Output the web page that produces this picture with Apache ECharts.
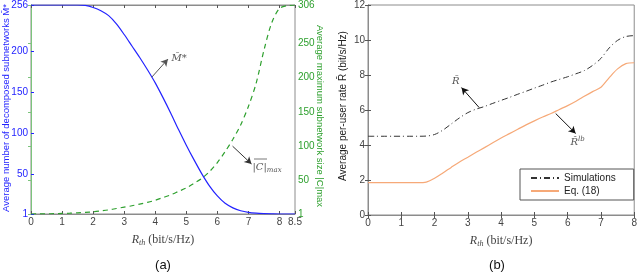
<!DOCTYPE html>
<html><head><meta charset="utf-8">
<script src="https://cdn.jsdelivr.net/npm/echarts@6/dist/echarts.min.js"></script>
<style>html,body{margin:0;padding:0;background:#fff}#c{width:640px;height:274px}</style>
</head><body><div id="c"></div>
<script>
// ---- data (a) ----
const rthA = [0,0.25,0.5,0.75,1,1.25,1.5,1.75,2,2.25,2.5,2.75,3,3.25,3.5,3.75,4,4.25,4.5,4.75,5,5.25,5.5,5.75,6,6.25,6.5,6.75,7,7.25,7.5,7.75,8,8.25,8.5];
const mStar = [256,256,256,256,256,256,256,255.5,253,249,243,233,220,206,192,177,161,143,124,104,85,67,50,35,23,14,8.5,5,3,2,1.5,1.2,1,1,1];
const cMax = [1,1.1,1.3,1.5,1.8,2.2,2.7,3.4,4.2,5.5,7,9,11,13,15.5,18,21,25,29,34,39,46,53,63,76,92,110,131,158,192,240,280,301,305,306];
const xTicksA = [0,1,2,3,4,5,6,7,8,8.5];
const leftTicksA = [1,50,100,150,200,250,256];
const rightTicksA = [1,50,100,150,200,250,300,306];
// ---- data (b) ----
const rthB = [0,0.25,0.5,0.75,1,1.25,1.5,1.75,2,2.25,2.5,2.75,3,3.25,3.5,3.75,4,4.25,4.5,4.75,5,5.25,5.5,5.75,6,6.25,6.5,6.75,7,7.25,7.5,7.75,8];
const rSim = [4.5,4.5,4.5,4.5,4.5,4.5,4.5,4.51,4.6,4.85,5.2,5.55,5.85,6.05,6.2,6.38,6.55,6.72,6.9,7.07,7.25,7.42,7.6,7.75,7.9,8.07,8.25,8.55,8.95,9.55,9.98,10.2,10.25];
const rEq = [1.85,1.85,1.85,1.85,1.85,1.85,1.85,1.88,2.1,2.4,2.72,3.03,3.3,3.58,3.85,4.13,4.4,4.65,4.9,5.15,5.38,5.6,5.8,6.03,6.25,6.5,6.78,7.05,7.3,7.85,8.35,8.65,8.7];
const legendNames = ['Simulations','Eq. (18)'];

const pair = (xs, ys) => xs.map((x,i)=>[x,ys[i]]);
const BLUE = '#2323ff', GREEN = '#2ea02e', GAX = '#7cc47c', ORANGE = '#f6a978', GRAY='#8c8c8c';
const lbl = (c)=>({color:c,fontSize:10,fontFamily:'Liberation Sans, Arial',margin:3,showMinLabel:true,showMaxLabel:true});
const serif = 'DejaVu Serif, Liberation Serif, serif';
const xName = {
  name:'{i|R}{s|th} (bit/s/Hz)', nameLocation:'middle', nameGap:18,
  nameTextStyle:{fontFamily:'Liberation Serif, serif',fontSize:12,color:'#444',
    rich:{i:{fontFamily:'Liberation Serif, serif',fontStyle:'italic',fontSize:12,color:'#444'},
          s:{fontFamily:'Liberation Serif, serif',fontStyle:'italic',fontSize:8,color:'#444',verticalAlign:'bottom',padding:[7,0,0,0]}}}
};
function arrow(from,to,color){
  return {silent:true,symbol:['none','arrow'],symbolSize:[6,7],animation:false,
    lineStyle:{color:color,width:1,type:'solid'},label:{show:false},
    data:[[{coord:from},{coord:to}]]};
}
function tag(coord, text, rich){
  return {silent:true,animation:false,data:[{coord:coord,symbol:'circle',symbolSize:2,itemStyle:{color:'rgba(0,0,0,0)'},
    label:{show:true,position:'inside',formatter:text,color:'#555',fontFamily:serif,fontStyle:'italic',fontSize:10,rich:rich||{}}}]};
}

const chart = echarts.init(document.getElementById('c'));
chart.setOption({
  animation:false,
  grid:[
    {left:31,right:345,top:4,bottom:60,show:true,borderColor:GRAY,borderWidth:1},
    {left:368,right:4,top:4,bottom:59,show:true,borderColor:GRAY,borderWidth:1}
  ],
  legend:{
    data:legendNames, left:520, top:169, orient:'vertical', itemWidth:28, itemHeight:8, itemGap:3,
    padding:[4,18,4,10], borderColor:'#555', borderWidth:1, backgroundColor:'#fff',
    itemStyle:{opacity:0},
    textStyle:{fontSize:10,fontFamily:'Liberation Sans, Arial',color:'#222'}
  },
  xAxis:[
    Object.assign({gridIndex:0,type:'value',min:0,max:8.5,position:'bottom',
      axisLine:{lineStyle:{color:GRAY}},splitLine:{show:false},
      axisTick:{inside:true,length:3,customValues:xTicksA,lineStyle:{color:'#555'}},
      axisLabel:Object.assign(lbl('#444'),{customValues:xTicksA})}, xName),
    {gridIndex:0,type:'value',min:0,max:8.5,position:'top',axisLine:{lineStyle:{color:GRAY}},splitLine:{show:false},
      axisTick:{inside:true,length:3,customValues:xTicksA,lineStyle:{color:'#555'}},axisLabel:{show:false}},
    Object.assign({gridIndex:1,type:'value',min:0,max:8,interval:1,position:'bottom',
      axisLine:{lineStyle:{color:GRAY}},splitLine:{show:false},
      axisTick:{inside:true,length:3,lineStyle:{color:'#555'}},
      axisLabel:lbl('#444')}, xName),
    {gridIndex:1,type:'value',min:0,max:8,interval:1,position:'top',axisLine:{lineStyle:{color:GRAY}},splitLine:{show:false},
      axisTick:{inside:true,length:3,lineStyle:{color:'#555'}},axisLabel:{show:false}}
  ],
  yAxis:[
    {gridIndex:0,type:'value',min:1,max:256,position:'left',
      axisLine:{show:true,lineStyle:{color:BLUE}},splitLine:{show:false},
      axisTick:{show:true,inside:true,length:3,customValues:leftTicksA,lineStyle:{color:BLUE}},
      axisLabel:Object.assign(lbl(BLUE),{customValues:leftTicksA})},
    {gridIndex:0,type:'value',min:1,max:306,position:'right',
      axisLine:{show:true,lineStyle:{color:GAX}},splitLine:{show:false},
      axisTick:{show:true,inside:true,length:3,customValues:rightTicksA,lineStyle:{color:GAX}},
      axisLabel:Object.assign(lbl(GREEN),{customValues:rightTicksA})},
    {gridIndex:1,type:'value',min:0,max:12,interval:2,position:'left',
      axisLine:{show:true,lineStyle:{color:GRAY}},splitLine:{show:false},
      axisTick:{show:true,inside:true,length:3,lineStyle:{color:'#555'}},
      axisLabel:lbl('#444')},
    {gridIndex:1,type:'value',min:0,max:12,interval:2,position:'right',
      axisLine:{show:true,lineStyle:{color:GRAY}},splitLine:{show:false},
      axisTick:{show:true,inside:true,length:3,lineStyle:{color:'#555'}},axisLabel:{show:false}}
  ],
  series:[
    {name:'M',type:'line',xAxisIndex:0,yAxisIndex:0,data:pair(rthA,mStar),showSymbol:false,smooth:0.3,
      lineStyle:{color:BLUE,width:1.2},z:3,
      markLine:arrow([3.89,168],[4.41,190],'#555'),
      markPoint:tag([4.77,191],'M̄*')},
    {name:'C',type:'line',xAxisIndex:0,yAxisIndex:1,data:pair(rthA,cMax),showSymbol:false,smooth:0.3,
      lineStyle:{color:GREEN,width:1.2,type:[5,4]},z:2,
      markLine:arrow([6.49,100],[7.1,74],'#333'),
      markPoint:tag([7.6,69],'{o||C|}{s|max}',{o:{fontFamily:serif,fontStyle:'italic',fontSize:10,color:'#555'},s:{fontFamily:serif,fontStyle:'italic',fontSize:7,color:'#555',padding:[5,0,0,0]}})},
    {name:'Simulations',type:'line',xAxisIndex:2,yAxisIndex:2,data:pair(rthB,rSim),showSymbol:false,symbol:'none',smooth:0.3,
      lineStyle:{color:'#333',width:1,type:[6,3,1,3]},itemStyle:{color:'#333'},z:3,
      markLine:arrow([3.34,6.14],[2.81,7.28],'#111'),
      markPoint:tag([2.64,7.62],'R̄')},
    {name:'Eq. (18)',type:'line',xAxisIndex:2,yAxisIndex:2,data:pair(rthB,rEq),showSymbol:false,symbol:'none',smooth:0.3,
      lineStyle:{color:ORANGE,width:1.2},itemStyle:{color:ORANGE},z:2,
      markLine:arrow([5.64,5.8],[6.24,4.66],'#111'),
      markPoint:tag([6.3,4.15],'{r|R̂}{s|lb}',{r:{fontFamily:serif,fontStyle:'italic',fontSize:10,color:'#555'},s:{fontFamily:serif,fontStyle:'italic',fontSize:7,color:'#555',padding:[0,0,6,0]}})}
  ],
  graphic:[
    {type:'text',x:6,y:108,rotation:Math.PI/2,style:{text:'Average number of decomposed subnetworks M̄*',
      font:'9.5px Liberation Sans, Arial',fill:BLUE,align:'center',verticalAlign:'middle'}},
    {type:'text',x:320,y:116,rotation:-Math.PI/2,style:{text:'Average maximum subnetwork size |C|max',
      font:'9.5px Liberation Sans, Arial',fill:GREEN,align:'center',verticalAlign:'middle'}},
    {type:'text',x:343,y:106,rotation:Math.PI/2,style:{text:'Average per-user rate R̄ (bit/s/Hz)',
      font:'10px Liberation Sans, Arial',fill:'#222',align:'center',verticalAlign:'middle'}},
    {type:'line',shape:{x1:254,y1:159,x2:267,y2:159},style:{stroke:'#555',lineWidth:0.8}},
    {type:'text',x:163,y:265,style:{text:'(a)',font:'13px Liberation Sans, Arial',fill:'#111',align:'center',verticalAlign:'middle'}},
    {type:'text',x:497,y:265,style:{text:'(b)',font:'13px Liberation Sans, Arial',fill:'#111',align:'center',verticalAlign:'middle'}}
  ]
});
</script></body></html>
